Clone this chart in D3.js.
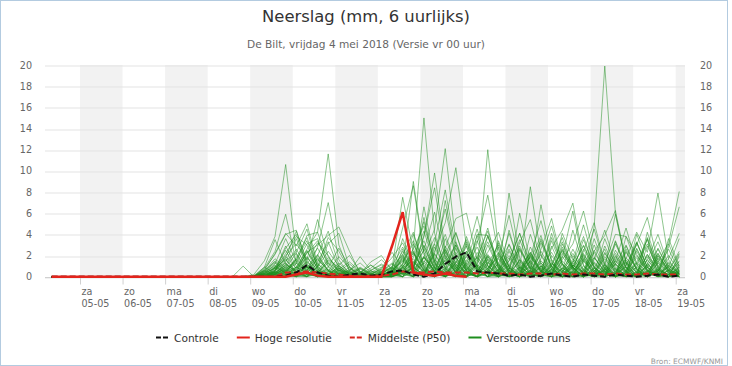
<!DOCTYPE html>
<html><head><meta charset="utf-8">
<script src="https://cdn.jsdelivr.net/npm/d3@7"></script>
<style>body{margin:0;background:#fff}svg{display:block;font-family:"DejaVu Sans",sans-serif}</style>
</head><body><svg id="c" width="732" height="366"></svg>
<script>
// ---------- data ----------
const title = "Neerslag (mm, 6 uurlijks)";
const subtitle = "De Bilt, vrijdag 4 mei 2018 (Versie vr 00 uur)";
const source = "Bron: ECMWF/KNMI";
const dayNames = ["za","zo","ma","di","wo","do","vr","za","zo","ma","di","wo","do","vr","za"];
const dayDates = ["05-05","06-05","07-05","08-05","09-05","10-05","11-05","12-05","13-05","14-05","15-05","16-05","17-05","18-05","19-05"];
const yTicks = [0,2,4,6,8,10,12,14,16,18,20];
const legendLabels = ["Controle","Hoge resolutie","Middelste (P50)","Verstoorde runs"];
// first 6-hourly value: 4 May 2018 08:00 local, one value every 6 hours
const firstStep = [2018,4,4,8];
const stepHours = 6;

const controle = [0,0,0,0,0,0,0,0,0,0,0,0,0,0,0,0,0,0,0,0,0,0,
 0.1,0.4,1.1,0.4,0.1,0,0.2,0.3,0.1,0.2,0.5,0.6,0.2,0,0.3,1.2,1.9,2.3,0.5,0.4,0.3,0.1,0.2,0,0.1,0.3,0.1,0,0.2,0.1,0,0.2,0.1,0,0.1,0.2,0,0.1];
const hogeResolutie = [0,0,0,0,0,0,0,0,0,0,0,0,0,0,0,0,0,0,0,0,0,0,0,
 0.2,0.4,0.1,0,0,0,0,0,0,2.9,6.1,0.4,0.2,0.1,0.3,0.1,0];
const middelste = [0,0,0,0,0,0,0,0,0,0,0,0,0,0,0,0,0,0,0,0,0,0,
 0.4,0.4,0.5,0.4,0.3,0.2,0.1,0,0.1,0.1,0.2,0.5,0.4,0.4,0.5,0.4,0.4,0.4,0.3,0.4,0.3,0.3,0.2,0.3,0.3,0.2,0.3,0.2,0.3,0.3,0.2,0.3,0.2,0.2,0.3,0.2,0.2,0.2];
const verstoordeRuns = [
[0,0,0,0,0,0,0,0,0,0,0,0,0,0,0,0,0,0, 0,0.2,1.5,3.8,10.6,2.1,0.4,0,0.3,0.8,0.2,0,0, 0.1,0.5, 1.2,3.4,0.8,0,2.2,4.1,1.0,0,0.6, 2.8,0.4,0,1.5,3.9,0.7,0,0,2.4, 5.1,1.2,0,0.3,0.9,3.6,0.2,0,1.1],
[0,0,0,0,0,0,0,0,0,0,0,0,0,0,0,0,0,0, 0,0,0.8,2.4,5.9,1.3,0.2,1.8,0.6,0,0,0.4,1.1, 0.3,0, 0.9,2.6,4.8,1.4,0,0.5,3.3,0.8,0, 0,4.4,1.0,0.2,0,2.9,0.6,0,1.7, 0.4,0,3.1,0.9,0,0,2.2,0.5,0],
[0,0,0,0,0,0,0,0,0,0,0,0,0,0,0,0,0,0, 0,0,0,0.6,1.9,0.8,2.6,4.2,11.6,3.0,0.5,0,0.2, 0,0.4, 2.0,0.6,3.8,9.8,2.5,0.3,0,1.6,4.6, 0.8,0,0.2,2.1,0.4,3.7,1.2,0,0, 0.8,2.6,0.3,0,4.0,1.3,0,0.6,2.4],
[0,0,0,0,0,0,0,0,0,0,0,0,0,0,0,0,0,0, 0,0,0.3,1.2,3.6,1.4,0.5,2.8,7.0,1.6,0.2,0,0, 0.5,1.3, 0.4,0,1.9,4.5,12.1,3.2,0.6,0,0.4, 2.2,0.7,3.5,0.9,0,0.3,1.8,6.2,1.1, 0,0.2,1.5,0.4,0,2.9,0.8,0,0.5],
[0,0,0,0,0,0,0,0,0,0,0,0,0,0,0,0,0,0, 0,0.1,0.6,2.2,4.1,2.9,5.0,1.2,0.3,0,0,0.8,0.3, 0,0.2, 1.0,9.0,2.3,0.5,0,1.8,0.6,3.9,1.0, 0,0.4,6.0,1.4,0,0.7,2.5,0.9,0, 0.2,0.6,3.3,0.8,0,4.2,1.1,0,0.3],
[0,0,0,0,0,0,0,0,0,0,0,0,0,0,0,0,0,0, 0,0,0.2,0.9,2.0,3.1,1.6,5.4,1.9,0.4,0,0,0.6, 1.1,0.3, 0,2.7,15.0,4.1,0.8,0,1.3,0.3,0, 3.4,0.9,0,0.5,6.8,1.6,0,0.4,2.0, 0,0.8,5.9,1.2,0,0.5,1.7,0.4,0],
[0,0,0,0,0,0,0,0,0,0,0,0,0,0,0,0,0,0, 0,0,0,0.4,1.1,0.6,2.3,3.0,3.9,4.7,2.4,0.3,0, 0,0.2, 0.8,1.5,0.4,0,2.6,0.9,0,1.4,3.8, 1.0,0,0.6,2.3,0.5,0,4.1,1.7,0.3, 0,1.2,4.0,3.8,2.1,0.6,0,0.2,0.9],
[0,0,0,0,0,0,0,0,0,0,0,0,0,0,0,0,0,0, 0,0,0.5,1.7,0.8,0.2,0.9,2.1,0.6,0,0,0.3,1.4, 2.0,0.6, 0,1.1,3.0,0.7,0,0.4,1.9,0.6,12.0, 2.6,0.3,0,1.5,0.5,0,2.2,0.8,0, 3.6,1.0,0,0.4,2.7,0.6,0,1.3,0.2],
[0,0,0,0,0,0,0,0,0,0,0,0,0,0,0,0,0,0, 0,0,0,0.5,2.7,4.0,1.1,0.3,1.6,0.9,0,0,0.2, 0.7,1.8, 3.2,0.9,0.2,2.4,5.1,10.3,2.8,0.6,0, 1.7,0.4,0,2.8,0.9,0,0,1.4,4.9, 1.2,0.3,0,2.3,0.7,0,0.5,3.1,0.8],
[0,0,0,0,0,0,0,0,0,0,0,0,0,0,0,0,0,0, 0,0,0.1,0.7,1.3,0.4,0,0.9,2.4,1.0,0.2,0,0, 0.4,0.9, 2.1,4.2,1.0,0,0.8,3.0,0.6,0,1.9, 0.5,0,2.6,0.8,0,1.1,3.3,0.9,0, 4.7,19.9,6.0,1.3,0,0.4,2.0,0.6,0],
[0,0,0,0,0,0,0,0,0,0,0,0,0,0,0,0,0,0, 0,0,0.4,1.0,0.3,1.8,3.7,0.9,0,0.5,1.2,0.4,0, 0,0.8, 7.5,2.3,0.5,0,1.6,0.4,3.1,1.0,0, 0.3,7.9,1.8,0.2,0,1.0,0.3,2.6,0.7, 0,0,1.9,0.5,3.2,0.9,0,0,0.4],
[0,0,0,0,0,0,0,0,0,0,0,0,0,0,0,0,0,0, 0,0,0.3,0.8,1.6,0.5,0,0.4,1.3,0.6,0,0,0.1, 0.2,0.6, 1.4,3.1,0.9,0,2.0,0.7,0,3.2,7.7, 2.1,0.3,0,1.2,3.4,0.9,0,0.5,1.8, 0.6,0,2.5,0.8,0,1.6,0.4,0,0.9],
[0,0,0,0,0,0,0,0,0,0,0,0,0,0,0,0,0,0, 0,0,0,0.2,0.9,2.2,0.7,0.1,0.5,1.9,0.8,0.2,0, 0,0.3, 0.5,1.8,4.3,1.1,0,0.6,2.4,0.8,0, 1.3,3.0,0.8,8.5,2.0,0.3,0,1.1,0.4, 0,2.2,0.7,0,1.4,3.5,0.9,0,0.3],
[0,0,0,0,0,0,0,0,0,0,0,0,0,0,0,0,0,0, 0,0,0.6,1.4,0.5,0,1.2,2.7,0.9,0.2,0,0.5,0.2, 0,0.1, 2.6,0.7,0,1.5,4.0,1.2,0.3,0,2.1, 0.8,0,1.6,0.5,0,2.7,4.4,6.95,1.5, 0.2,0,1.2,3.0,0.6,0,0.8,2.6,0.5],
[0,0,0,0,0,0,0,0,0,0,0,0,0,0,0,0,0,0, 0,0,0,0,0.4,1.6,3.4,1.0,0.2,0,0.3,0.9,0.3, 0,0, 0.3,0.9,2.5,6.1,1.8,0.4,0,1.2,3.3, 0.9,0,0.4,2.3,0.7,0,1.6,3.1,6.2, 1.9,0.4,0,1.8,0.5,0,2.7,0.8,0],
[0,0,0,0,0,0,0,0,0,0,0,0,0,0,0,0,0,0, 0,0,0.2,0.5,1.8,4.3,1.5,0.3,0,0.6,0.4,0,0, 0.3,0.2, 1.9,0.5,0,3.1,0.8,0,1.4,4.5,1.1, 0,0.7,2.9,0.6,0,1.0,3.7,0.9,0, 2.4,3.9,6.25,1.4,0,0.4,1.5,0.3,0],
[0,0,0,0,0,0,0,0,0,0,0,0,0,0,0,0,0,0, 0,0,0,0.9,2.5,0.7,0,1.4,3.3,0.8,0,0,0, 0.6,0.2, 0,1.4,0.5,2.2,6.4,1.7,0,0.9,2.3, 4.2,1.0,0,0.6,2.1,0.5,0,1.3,3.8, 0.9,0,0.3,1.7,4.2,2.3,7.9,1.6,0.2],
[0,0,0,0,0,0,0,0,0,0,0,0,0,0,0,0,0,0, 0,0.1,0.9,0.3,0,0.8,2.2,3.4,1.2,0.3,0,0,0.4, 0.9,0.4, 0,0.6,1.8,0.5,2.9,0.9,0,2.3,0.7, 0,1.5,4.1,1.1,0,0.7,2.4,0.6,0, 1.8,0.5,0,2.9,0.8,0,1.4,3.2,8.05],
[0,0,0,0,0,0,0,0,0,0,0,0,0,0,0,0,0,0, 0,0,0,0.3,1.2,0.5,1.8,0.6,0,1.1,2.0,0.5,0, 0,0.5, 2.4,0.7,5.6,1.3,0,1.8,0.5,0,3.9, 1.2,0,0.4,1.9,5.3,1.4,0,0.8,2.2, 0.5,0,3.4,0.9,0,1.2,0.4,2.8,6.6],
[0,0,0,0,0,0,0,0,0,0,0,0,0,0,0,0,0,0, 0,0,0.7,2.1,4.0,4.4,1.2,0.2,0,0.4,0.1,0,0, 0,0.4, 1.1,0.3,2.6,0.8,7.2,1.9,0,0.5,1.6, 0.4,0,2.5,0.7,3.6,1.0,0,0.3,1.4, 4.5,1.1,0,0.6,2.0,0.5,0,1.1,0.3],
[0,0,0,0,0,0,0,0,0,0,0,0,0,0,0,0,0,0, 0,0,0,0.5,1.5,2.3,4.5,0.9,0.3,0,0,0.2,0.8, 1.6,0.7, 4.6,8.6,2.1,0.4,0,1.3,3.5,0.9,0, 0.6,2.0,0.5,0,1.7,4.8,1.2,0,0.5, 2.3,0.7,0,1.0,3.3,0.9,0,0.4,1.2],
[0,0,0,0,0,0,0,0,0,0,0,0,0,0,0,0,0,0, 0,0,0.1,0.4,0.9,0.3,1.5,3.2,2.0,0.5,0,0,0, 0.2,1.0, 2.8,0.8,3.9,8.4,2.0,0.3,0,1.9,0.6, 0,3.1,0.8,0,0.5,1.6,0.4,4.4,1.0, 0,0.7,2.2,0.6,0,3.7,1.0,0,0.5],
[0,0,0,0,0,0,0,0,0,0,0,0,0,0,0,0,0,0, 0,0,0,0,0.5,1.7,0.6,2.0,4.3,1.1,0.2,0,0, 0.1,0.3, 0.9,2.4,0.7,3.2,8.2,2.6,0.5,0,1.2, 3.0,0.9,0,0.4,1.3,0.3,2.6,0.7,0, 1.6,4.4,1.2,0,0.5,1.9,0.4,0,2.1],
[0,0,0,0,0,0,0,0,0,0,0,0,0,0,0,0,0,0, 0,0,0.4,1.1,0.3,0,0.6,1.7,0.5,0.2,0.9,0.4,0, 0,0.6, 1.5,0.4,1.9,0.6,2.7,5.5,6.0,1.6,0.3, 0,1.1,2.7,0.8,0,0.5,1.9,0.6,3.5, 1.0,0,0.4,2.4,0.7,0,1.3,0.4,0],
[0,0,0,0,0,0,0,0,0,0,0,0,0,0,0,0,0,0, 0,0,0,0.6,2.9,1.0,0.2,0.6,1.8,0.7,0,0,0.3, 0.5,0, 0.7,2.0,5.2,1.4,0,0.8,2.9,0.7,0, 1.8,5.8,1.5,0.3,0,1.2,0.4,0,2.6, 0.8,0,1.5,4.6,1.2,0,0.6,2.0,0.5],
[0,0,0,0,0,0,0,0,0,0,0,0,0,0,0,0,0,0, 0,0,0.3,0.2,1.4,3.6,0.9,0,0,0.7,1.4,0.5,0, 0,0.2, 3.6,1.0,0,2.1,0.6,3.3,0.9,0,1.4, 0.4,0,3.2,5.4,1.3,0,0.7,2.2,0.6, 0,1.9,0.5,0,2.6,0.7,0,3.6,1.0],
[0,0,0,0,0,0,0,0,0,0,0,0,0,0,0,0,0,0, 0,0,0,0.1,0.6,1.2,3.1,3.6,1.0,0.2,0,0,0, 0.4,1.2, 0.3,0,1.3,3.7,1.0,0.2,2.0,5.7,1.5, 0,0.8,0.2,2.0,0.6,0,3.1,0.9,0, 1.4,0.4,0,1.1,3.0,5.6,1.4,0,0.6],
[0,0,0,0,0,0,0,0,0,0,0,0,0,0,0,0,0,0, 0,0,0.5,1.3,0.4,0,0.2,0.9,3.1,4.1,0.9,0,0, 0,0, 0.6,1.7,0.4,0,1.6,4.2,1.1,0,0.5, 2.3,0.6,0,4.0,1.1,0,0.4,1.5,0.3, 0,2.9,0.8,0,0.4,1.6,4.0,1.0,0],
[0,0,0,0,0,0,0,0,0,0,0,0,0,0,0,0,0,0, 0,0,0,0.8,1.7,0.4,0.9,0.2,0,0.3,0.6,1.3,0.4, 0,0.7, 2.1,0.6,6.6,1.7,0.3,0,1.0,2.8,0.7, 0,0.4,1.4,0.3,2.6,5.5,1.3,0,0.6, 1.8,0.5,0,3.8,1.1,0,0.3,0.9,3.6],
[0,0,0,0,0,0,0,0,0,0,0,0,0,0,0,0,0,0, 0,0,0.2,0.4,0.2,0.9,0.4,1.2,0.5,0.1,0,0.3,1.1, 0.5,0, 1.2,4.0,1.1,0,0.6,2.3,0.5,0,3.0, 0.8,0,0.2,1.0,0.3,4.1,1.1,0,0.7, 2.5,0.7,0,0.2,1.2,3.1,0.8,0,1.9],
[0,0,0,0,0,0,0,0,0,0,0,0,0,0,0,0,0,0, 0,0,0,0,0.3,0.7,1.9,0.5,0,0,0.2,0.7,0.2, 0.8,2.3, 0.9,0,1.5,0.4,3.6,1.0,0,1.1,0.4, 0,2.4,0.6,0,3.2,0.9,0,1.7,0.5, 0.3,3.6,1.0,0,0,0.8,2.2,0.6,0],
[0,0,0,0,0,0,0,0,0,0,0,0,0,0,0,0,0,0, 0,0,0.1,0.3,0.7,0.2,0.5,1.6,0.6,0,0,0,0, 0.2,0.4, 0.5,1.2,3.4,0.9,0,0.4,1.6,0.5,2.0, 0.6,4.1,1.2,0,1.5,0.4,0,1.0,2.9, 0.8,0,0.5,1.4,0.4,2.1,0.6,0,0.3],
[0,0,0,0,0,0,0,0,0,0,0,0,0,0,0,0,0,0, 0,0,0,0.4,0.1,0,1.0,0.4,1.5,0.6,0.1,0,0, 0,0.1, 1.8,0.5,0,1.0,2.5,0.7,0,0.4,1.3, 0.3,0,0.7,1.8,0.5,0,0.2,1.1,0.4, 0,0.6,1.7,0.5,0,1.0,2.6,0.7,0.2],
[0,0,0,0,0,0,0,0,0,0,0,0,0,0,0,0,0,0, 0,0,0.2,0.1,0.5,0.9,0.3,0,0.4,1.3,0.4,0,0, 0.3,0.9, 0.2,0.7,1.9,0.5,0,1.4,0.4,0,0.8, 2.0,0.6,0,0.3,0.9,2.3,0.6,0,0.4, 1.3,0.3,0,0.5,1.8,0.5,0,1.4,0.4],
[0,0,0,0,0,0,0,0,0,0,0,0,0,0,0,0,0,0, 0,0,0,0.2,0.6,0.3,0.1,0.5,0.2,0,0,0.1,0.5, 0.4,0, 0.9,0.3,0,0.6,1.5,0.4,2.2,0.6,0, 0.3,1.1,0.3,0,0.5,1.3,0.4,2.0,0.6, 0,0.4,1.2,0.3,0,0.6,0.2,0,0.8],
[0,0,0,0,0,0,0,0,0,0,0,0,0,0,0,0,0,0, 0,0,0.3,0.9,0.4,0.1,0,0.2,0.7,0.3,0,0,0, 0,0.3, 0.6,0,0.4,1.2,0.3,0,0.7,1.8,0.5, 0,0.3,0.9,0.2,0,0.6,0.2,0.9,0.3, 0,1.1,0.3,0,0.4,0.1,0.7,0.2,0],
[0,0,0,0,0,0,0,0,0,0,0,0,0,0,0,0,0,0, 0,0,0,0,0.2,0.5,0.2,0,0.3,0.8,0.3,0,0.2, 0.1,0, 0.3,0.8,0.2,0,0.5,0.2,0,0.4,1.0, 0.3,0,0.2,0.6,0.1,0,0.8,0.3,0, 0.2,0.5,0.1,0,0.3,0.9,0.3,0,0.2],
[0,0,0,0,0,0,0,0,0,0,0,0,0,0,0,0,0,0, 0,0,0.1,0.2,0.1,0.4,0.9,0.3,0,0.1,0.4,0.2,0, 0,0.2, 0.4,0.1,0.7,0.3,0,1.1,0.4,0,0.2, 0.6,0.2,0,0.4,1.0,0.3,0,0.5,0.2, 0,0.3,0.8,0.2,0,0.3,0.1,0.6,0.3],
[0,0,0,0,0,0,0,0,0,0,0,0,0,0,0,0,0,0, 0,0,0.9,3.5,1.2,0.4,2.4,0.8,0,0.2,0.5,0.1,0, 0,0.5, 1.6,0.4,0,2.8,0.8,0,1.2,3.4,1.0, 0.2,1.8,0.5,0,2.4,0.7,0,0.9,3.0, 0.9,0,1.2,0.4,0,2.1,0.6,0,0.4],
[0,0,0,0,0,0,0,0,0,0,0,0,0,0,0,0,0,0, 0,0,0.2,0.6,2.2,3.8,3.0,0.7,0,0,0.3,0.8,0.2, 0,0, 0.4,2.3,0.6,0,1.3,3.0,0.8,0,0.6, 3.2,0.8,0,1.9,0.5,0,2.8,0.8,0, 0.5,1.7,0.4,0,2.4,0.6,0,1.0,0.3],
[0,0,0,0,0,0,0,0,0,0,0,0,0,0,0,0,0,0, 0,0,0,0.3,0.8,1.4,3.9,4.2,1.3,0.3,0,0,0, 0,0.2, 0.8,0.2,1.8,0.5,0,2.1,0.6,1.9,4.3, 1.1,0,0.5,1.4,0.4,0,1.2,0.3,0, 3.0,0.8,0,1.6,0.4,0,2.0,0.5,1.4],
[0,0,0,0,0,0,0,0,0,0,0,0,0,0,0,0,0,0, 0,0,0.4,1.5,0.6,0.1,0,1.0,3.7,2.4,0.6,0,0, 0.3,0.1, 0,1.0,2.9,0.8,0,1.5,0.4,0,1.7, 0.5,2.6,0.7,0,0.3,3.4,0.9,0,1.5, 0.4,0,2.0,0.5,0,1.2,3.3,0.8,0],
[0,0,0,0,0,0,0,0,0,0,0,0,0,0,0,0,0,0, 0,0,0,0.2,1.0,0.4,0,0.6,0.2,0,0.5,1.9,0.6, 0,0, 0.4,1.4,0.3,2.2,0.6,0,3.8,1.0,0, 0.7,0.2,1.6,0.4,0,2.0,0.5,1.3,0.4, 0,0.9,0.2,2.6,0.7,0,0.5,1.7,4.1],
[0,0,0,0,0,0,0,0,0,0,0,0,0,0,0,0,0,0, 0,0,0.2,0.4,1.1,2.6,0.9,0.3,0,0,0,0.2,0.6, 1.2,0.5, 0,0.5,1.3,0.4,1.8,0.5,0,4.0,3.9, 1.0,0,0.9,0.3,0,1.3,0.4,0,2.1, 0.6,0,0.3,0.9,0.3,0,1.8,0.5,0],
[0,0,0,0,0,0,0,0,0,0,0,0,0,0,0,0,0,0, 0,0,0,0.5,0.2,0.9,2.5,0.7,0.2,1.0,0.3,0,0, 0,0.1, 0.6,0,0.4,1.6,0.5,0,2.4,0.7,0, 0.4,1.5,4.1,1.2,0,0.7,0.2,0,1.0, 0.3,2.3,0.6,0,0.9,0.3,0,0.6,2.2],
[0,0,0,0,0,0,0,0,0,0,0,0,0,0,0,0,0,0, 0,0,0.6,0.2,0,0.4,1.4,0.5,0,0,0.7,0.3,0, 0.2,0.6, 1.7,0.5,0,0.9,0.3,2.7,0.8,0,0.5, 0.1,0,0.8,2.2,0.6,0,0.3,1.1,0.3, 0,0.5,1.5,0.4,3.2,0.9,0,0.2,0.7],
[0,0,0,0,0,0,0,0,0,0,0,0,0,0,0,0,0,0, 0,0,0,0.1,0.4,0.1,0.7,2.0,0.6,0,0,0,0.3, 0.7,0.2, 0.3,0.9,0.2,0,2.3,0.6,0,0.5,1.9, 0.5,0,0.3,0.9,0.2,0,1.5,0.4,0, 0.8,0.2,0,1.3,0.4,0,0.6,0.2,1.5],
[0,0,0,0,0,0,0,0,0,0,0,0,0,0,0,0,0,0, 0,0,0.3,0.8,0.2,0,0.3,0.1,0.9,2.7,0.9,0.1,0, 0,0.3, 0.9,2.2,0.6,0,0.4,1.2,0.3,0,0.8, 1.8,0.5,0,0.2,0.8,0.2,0,0.6,1.6, 0.4,0,0.7,0.2,0,1.1,0.3,0,0.4],
[0,0,0,0,0,0,0,0,0,0,0,0,0,0,0,0,0,0, 1.0,0,0,0.3,0.7,1.6,0.5,0,0.2,0.6,0.2,0,0, 0.4,0.8, 0.2,0,0.6,0.2,0,0.9,0.3,0,0.4, 1.2,0.3,0,0.5,0.2,0,0.8,0.3,0, 0.6,0.2,0,0.4,1.3,0.4,0,0.3,0.1],
[0,0,0,0,0,0,0,0,0,0,0,0,0,0,0,0,0,0, 0,0,0.5,0.2,0.6,1.3,0.4,0,0,0.3,0.1,0,0, 0,0, 0.5,0.2,0,0.8,0.3,0,0.4,1.1,0.3, 0,0.6,0.2,0,1.0,0.3,0,0.4,0.2, 0,0.7,0.3,0,0.2,0.5,0.2,0,0.6]
];

// ---------- drawing ----------
const svg = d3.select("#c");
const plotL = 45, plotR = 685, plotT = 65, plotB = 276.7;
const t0 = new Date(firstStep[0], firstStep[1], firstStep[2], firstStep[3]);
const timeAt = i => d3.timeHour.offset(t0, stepHours * i);
const dayTicks = dayDates.map((s, k) => new Date(2018, 4, 5 + k));

const x = d3.scaleTime()
  .domain([new Date(2018, 4, 4, 4, 15), new Date(2018, 4, 19, 5, 15)])
  .range([plotL, plotR]);
const y = d3.scaleLinear().domain([0, 20]).range([plotB, plotT]);

// outer border
svg.append("rect").attr("x", 0.5).attr("y", 0.5).attr("width", 727).attr("height", 365)
  .attr("fill", "none").attr("stroke", "#b3cbe0").attr("stroke-width", 1);

// alternating day bands
svg.append("g").selectAll("rect")
  .data(dayTicks.filter((d, k) => k % 2 === 0))
  .join("rect")
  .attr("x", d => x(d))
  .attr("y", plotT)
  .attr("width", d => Math.min(x(d3.timeDay.offset(d, 1)), plotR) - x(d))
  .attr("height", plotB - plotT)
  .attr("fill", "#f2f2f2");

// horizontal grid
const grid = svg.append("g").attr("transform", `translate(${plotL},0)`)
  .call(d3.axisLeft(y).tickValues(yTicks).tickSize(-(plotR - plotL)).tickFormat(""));
grid.select(".domain").remove();
grid.selectAll("line").attr("stroke", "#e3e3e3")
  .attr("transform", d => `translate(0,${Math.round(y(d)) + 0.5 - y(d)})`);

// y axes labels
function styleY(g) {
  g.select(".domain").remove();
  g.selectAll("line").remove();
  g.selectAll("text").attr("fill", "#666").attr("font-size", "9.6px")
    .attr("font-family", "DejaVu Sans, sans-serif");
}
svg.append("g").attr("transform", "translate(32,0)")
  .call(d3.axisLeft(y).tickValues(yTicks).tickSize(0).tickPadding(0)).call(styleY);
svg.append("g").attr("transform", "translate(700,0)")
  .call(d3.axisRight(y).tickValues(yTicks).tickSize(0).tickPadding(0)).call(styleY);

// x axis
const xa = svg.append("g").attr("transform", `translate(0,${Math.round(plotB) + 0.5})`)
  .call(d3.axisBottom(x).tickValues(dayTicks).tickSize(7).tickSizeOuter(0).tickFormat(""));
xa.select(".domain").attr("stroke", "#d0d0d0").attr("d", `M${plotL},0H${plotR}`);
xa.selectAll(".tick line").attr("stroke", "#d0d0d0");
xa.selectAll(".tick text").remove();
xa.selectAll(".tick").each(function (d, k) {
  const t = d3.select(this).append("text")
    .attr("fill", "#666").attr("font-size", "9.6px").attr("text-anchor", "start")
    .attr("font-family", "DejaVu Sans, sans-serif");
  t.append("tspan").attr("x", 1).attr("y", 17.5).text(dayNames[k]);
  t.append("tspan").attr("x", 1).attr("y", 29.5).text(dayDates[k]);
});

// lines
const line = d3.line().x((d, i) => x(timeAt(i))).y(d => y(d));
svg.append("g").selectAll("path")
  .data(verstoordeRuns).join("path")
  .attr("d", line).attr("fill", "none")
  .attr("stroke", "#1e8e1e").attr("stroke-opacity", 0.5).attr("stroke-width", 1);
svg.append("path").attr("d", line(middelste)).attr("fill", "none")
  .attr("stroke", "#d7261e").attr("stroke-width", 2).attr("stroke-dasharray", "6,3");
svg.append("path").attr("d", line(controle)).attr("fill", "none")
  .attr("stroke", "#111").attr("stroke-width", 2).attr("stroke-dasharray", "6,3");
svg.append("path").attr("d", line(hogeResolutie)).attr("fill", "none")
  .attr("stroke", "#e3241c").attr("stroke-width", 2.5);

// title
svg.append("text").attr("x", 366).attr("y", 22).attr("text-anchor", "middle")
  .attr("font-size", "16.4px").attr("fill", "#333").text(title);
svg.append("text").attr("x", 366).attr("y", 47.5).attr("text-anchor", "middle")
  .attr("font-size", "10.6px").attr("fill", "#666").text(subtitle);

// legend
const legendStyles = [
  {stroke: "#111", dash: "5,2"},
  {stroke: "#e3241c", dash: null},
  {stroke: "#d7261e", dash: "5,2"},
  {stroke: "#1e8e1e", dash: null}
];
let lx = 156;
legendLabels.forEach((lab, k) => {
  const g = svg.append("g");
  g.append("line").attr("x1", lx).attr("x2", lx + 13).attr("y1", 337.5).attr("y2", 337.5)
    .attr("stroke", legendStyles[k].stroke).attr("stroke-width", 2)
    .attr("stroke-dasharray", legendStyles[k].dash);
  const t = g.append("text").attr("x", lx + 18).attr("y", 341.5)
    .attr("font-size", "10.6px").attr("fill", "#333").text(lab);
  lx = lx + 18 + t.node().getComputedTextLength() + 18;
});

// source
svg.append("text").attr("x", 723).attr("y", 363.5).attr("text-anchor", "end")
  .attr("font-size", "7.5px").attr("fill", "#999").text(source);
</script>
</body></html>
